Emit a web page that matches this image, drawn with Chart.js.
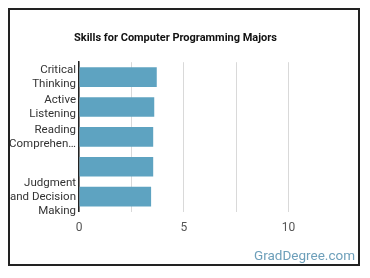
<!DOCTYPE html>
<html>
<head>
    <meta charset="utf-8">
    <title>Skills for Computer Programming Majors</title>
    <script src="https://cdn.jsdelivr.net/npm/chart.js@4.4.0/dist/chart.umd.min.js"></script>
    <style>
        body {
            margin: 0;
            background: #fff;
            font-family: Roboto, sans-serif;
        }
        .box {
            position: absolute;
            left: 8px;
            top: 8px;
            width: 352px;
            height: 258px;
            border: 2px solid #222;
            box-sizing: border-box;
        }
        .chart-container {
            position: relative;
            width: 348px;
            height: 254px;
        }
        .marca {
            position: absolute;
            right: 3px;
            bottom: 1px;
            color: #6d9fba;
            font-size: 13.5px;
        }
    </style>
</head>
<body>
    <div class="box">
        <div class="chart-container">
            <canvas id="skills-chart"></canvas>
        </div>
        <div class="marca">GradDegree.com</div>
    </div>

    <script>
        // Datos
        const habilidades = [
            ['Critical', 'Thinking'],
            ['Active', 'Listening'],
            ['Reading', 'Comprehen…'],
            '',
            ['Judgment', 'and Decision', 'Making']
        ];
        const puntajes = [3.71, 3.59, 3.54, 3.54, 3.44];
        const marcasX = [0, 2.5, 5, 7.5, 10];
        const etiquetasX = ['0', '', '5', '', '10'];

        const ctx = document.getElementById('skills-chart').getContext('2d');
        const chart = new Chart(ctx, {
            type: 'bar',
            data: {
                labels: habilidades,
                datasets: [{
                    data: puntajes,
                    backgroundColor: '#5ea3c1',
                    borderWidth: 0,
                    categoryPercentage: 0.8,
                    barPercentage: 0.82
                }]
            },
            options: {
                indexAxis: 'y',
                responsive: true,
                maintainAspectRatio: false,
                animation: false,
                layout: {
                    padding: { top: 6, right: 17, bottom: 20, left: 0 }
                },
                plugins: {
                    legend: { display: false },
                    tooltip: { enabled: false },
                    title: {
                        display: true,
                        text: 'Skills for Computer Programming Majors',
                        color: '#111',
                        font: { family: 'Roboto', size: 11, weight: 'bold' },
                        padding: { top: 16, bottom: 17 }
                    }
                },
                scales: {
                    x: {
                        min: 0,
                        max: 12.5,
                        afterBuildTicks: (scale) => {
                            scale.ticks = marcasX.map(v => ({ value: v }));
                        },
                        grid: { color: '#d9d9d9', drawTicks: false },
                        border: { display: false },
                        ticks: {
                            color: '#555',
                            font: { family: 'Roboto', size: 12 },
                            padding: 9,
                            maxRotation: 0,
                            callback: (v, i) => etiquetasX[i]
                        }
                    },
                    y: {
                        afterFit: (scale) => { scale.width = 69; },
                        grid: { display: false, drawTicks: false },
                        border: { display: true, color: '#222', width: 1.5 },
                        ticks: {
                            autoSkip: false,
                            color: '#333',
                            font: { family: 'Roboto', size: 11.5, lineHeight: 1.22 },
                            padding: 3
                        }
                    }
                }
            }
        });
    </script>
</body>
</html>
